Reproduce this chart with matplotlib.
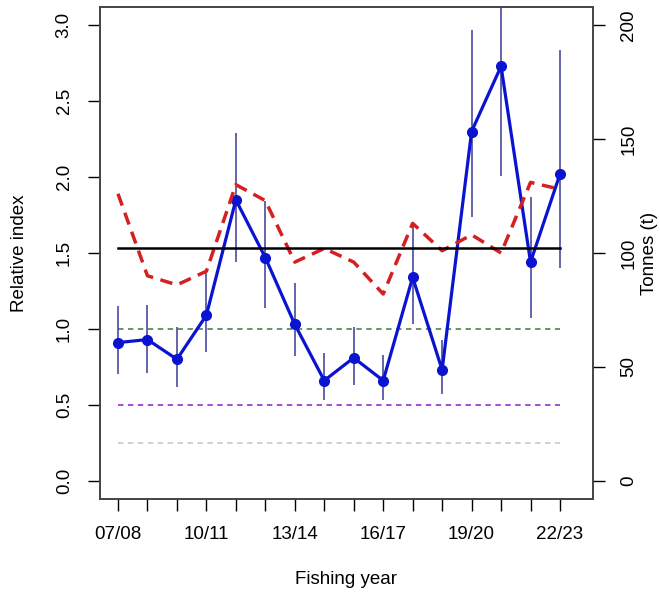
import matplotlib.pyplot as plt
import numpy as np

plt.rcParams['font.family'] = ['Liberation Sans', 'DejaVu Sans']

# Data
seasons = ['07/08', '08/09', '09/10', '10/11', '11/12', '12/13', '13/14', '14/15',
           '15/16', '16/17', '17/18', '18/19', '19/20', '20/21', '21/22', '22/23']
index_val = [0.91, 0.93, 0.80, 1.09, 1.85, 1.47, 1.03, 0.66,
             0.81, 0.66, 1.34, 0.73, 2.30, 2.73, 1.44, 2.02]
index_lo = [0.70, 0.71, 0.62, 0.85, 1.44, 1.14, 0.82, 0.53,
            0.63, 0.53, 1.03, 0.57, 1.74, 2.01, 1.07, 1.40]
index_hi = [1.15, 1.16, 1.01, 1.38, 2.29, 1.84, 1.30, 0.84,
            1.01, 0.83, 1.70, 0.93, 2.97, 3.30, 1.87, 2.84]
catch_t = [126, 90, 86, 92, 130, 123, 96, 102,
           96, 82, 113, 101, 108, 100, 131, 128]
mean_catch = 102
ref_levels = [1.0, 0.5, 0.25]
ref_colors = ['#5e8a5e', '#9b3fcf', '#d6c8d0']
label_every = 3


def draw_index_plot():
    years = np.arange(2007, 2007 + len(seasons))
    fs = 13.5

    fig = plt.figure(figsize=(6.6, 5.92), dpi=100)
    ax = fig.add_axes([100 / 660, 1 - 499 / 592, 493 / 660, 492 / 592])

    # reference lines
    for lev, col in zip(ref_levels, ref_colors):
        ax.plot([years[0], years[-1]], [lev, lev], color=col, lw=1.3,
                linestyle=(0, (3, 2.5)))

    # error bars
    ax.vlines(years, index_lo, index_hi, color='#3a3a9a', lw=1.1)
    ax.plot(years, index_val, color='#0a14d0', lw=2.3, marker='o', ms=7)

    ax.set_xlim(years[0] - 0.61, years[-1] + 1.12)
    ax.set_ylim(-0.12, 3.12)
    ax.set_yticks([0, 0.5, 1.0, 1.5, 2.0, 2.5, 3.0])
    ax.set_yticklabels(['0.0', '0.5', '1.0', '1.5', '2.0', '2.5', '3.0'])
    ax.set_xticks(years)
    ax.set_xticklabels([s if i % label_every == 0 else '' for i, s in enumerate(seasons)])
    ax.tick_params(axis='x', length=8.6, width=1, pad=11, labelsize=fs)
    ax.tick_params(axis='y', length=8.6, width=1, pad=11, labelsize=fs)
    for t in ax.get_yticklabels():
        t.set_rotation(90)
        t.set_va('center')

    # catch on right axis
    ax2 = ax.twinx()
    ax2.plot(years, catch_t, color='#d42020', lw=2.5, linestyle=(0, (3.6, 2.2)))
    ax2.plot([years[0], years[-1]], [mean_catch, mean_catch], color='black', lw=1.8)
    ax2.set_ylim(-0.12 * 200 / 3, 3.12 * 200 / 3)
    ax2.set_yticks([0, 50, 100, 150, 200])
    ax2.tick_params(axis='y', length=8.6, width=1, pad=11, labelsize=fs)
    for t in ax2.get_yticklabels():
        t.set_rotation(90)
        t.set_va('center')

    for a in (ax, ax2):
        for sp in a.spines.values():
            sp.set_color('#444444')
            sp.set_linewidth(1.2)

    fig.text(20 / 660, 1 - 253 / 592, 'Relative index', rotation=90,
             ha='center', va='center', fontsize=fs)
    fig.text(650 / 660, 1 - 253 / 592, 'Tonnes (t)', rotation=90,
             ha='center', va='center', fontsize=fs)
    fig.text(346 / 660, 1 - 580 / 592, 'Fishing year',
             ha='center', va='center', fontsize=fs)

    fig.savefig('out.png', dpi=100)


if __name__ == "__main__":
    draw_index_plot()
